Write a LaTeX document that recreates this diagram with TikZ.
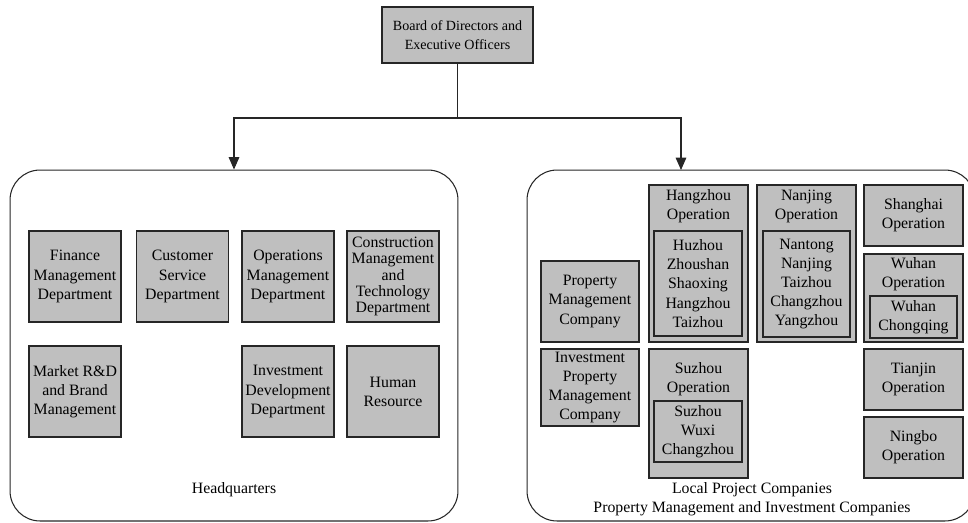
\documentclass[tikz,border=0pt]{standalone}
\usepackage{fontspec}
\setmainfont{Liberation Serif}
\usetikzlibrary{arrows.meta}

\tikzset{
  unit/.style={draw=black!85, fill=gray!50, line width=0.8pt, align=center, inner sep=0pt,
    font=\fontsize{9}{10.9}\selectfont},
  group/.style={draw=black!85, line width=0.6pt, rounded corners=0.6cm, inner sep=0pt},
}

\begin{document}
\begin{tikzpicture}[x=0.02cm, y=-0.02cm]
        \useasboundingbox (0,0) rectangle (968,522);
        \clip (0,0) rectangle (968,522);
        % the two groups
        \node[group, minimum width=8.96cm, minimum height=7.02cm] (HQ) at (234,345.5) {};
        \node[group, minimum width=8.96cm, minimum height=7.02cm] (LP) at (751,345.5) {};
        \node[font=\fontsize{9}{10.9}\selectfont] (HQlabel) at (234,490) {Headquarters};
        \node[font=\fontsize{9}{10.9}\selectfont, align=center] (LPlabel) at (752,499.5) {Local Project Companies\\Property Management and Investment Companies};
        % top
        \node[unit, minimum width=3.02cm, minimum height=1.12cm, font=\fontsize{8}{10.9}\selectfont] (Board) at (457.5,35) {Board of Directors and\\Executive Officers};
        \coordinate (split) at (457.5,118);
        \coordinate (LPin) at (681,170);
        \begin{scope}[every path/.style={draw=black!85, line width=0.6pt}, >={Triangle[width=6pt,length=7pt]}]
                \draw (Board) -- (split);
                \draw[->] (split) -| (HQ.north);
                \draw[->] (split) -| (LPin);
        \end{scope}
        % headquarters
        \begin{scope}[every node/.style={unit, minimum width=1.84cm, minimum height=1.82cm}]
                \node (Fin) at (75,276.5) {Finance\\Management\\Department};
                \node (Cust) at (182.5,276.5) {Customer\\Service\\Department};
                \node (Ops) at (288,276.5) {Operations\\Management\\Department};
                \node[font=\fontsize{9}{9.2}\selectfont] (Cons) at (393,276.5) {Construction\\Management\\and\\Technology\\Department};
                \node (Mkt) at (75,391.5) {Market R\&D\\and Brand\\Management};
                \node (Inv) at (288,391.5) {Investment\\Development\\Department};
                \node (HR) at (393,391.5) {Human\\Resource};
        \end{scope}
        % local companies
        \begin{scope}[every node/.style={unit, minimum width=1.98cm}]
                \node[minimum width=1.96cm, minimum height=1.62cm] (PMC) at (590,301.5) {Property\\Management\\Company};
                \node[minimum width=1.96cm, minimum height=1.54cm] (IPMC) at (590,387.5) {Investment\\Property\\Management\\Company};
                \node[minimum height=3.14cm] (Hz) at (698.5,263.5) {};
                \node[minimum height=2.58cm] (Sz) at (698.5,413.5) {};
                \node[minimum height=3.14cm] (Nj) at (806.5,263.5) {};
                \node[minimum height=1.22cm] (Sh) at (913.5,215.5) {Shanghai\\Operation};
                \node[minimum height=1.76cm] (Wh) at (913.5,298) {};
                \node[minimum height=1.22cm] (Tj) at (913.5,379.5) {Tianjin\\Operation};
                \node[minimum height=1.22cm] (Nb) at (913.5,447.5) {Ningbo\\Operation};
        \end{scope}
        \begin{scope}[every node/.style={align=center, inner sep=0pt, font=\fontsize{9}{10.9}\selectfont}]
                \node (HzTitle) at (698.5,206.5) {Hangzhou\\Operation};
                \node (SzTitle) at (698.5,379.5) {Suzhou\\Operation};
                \node (NjTitle) at (806.5,206.5) {Nanjing\\Operation};
                \node (WhTitle) at (913.5,274.5) {Wuhan\\Operation};
        \end{scope}
        \begin{scope}[every node/.style={unit, minimum width=1.76cm}]
                \node[minimum height=2.10cm] (HzCities) at (698,283.5) {Huzhou\\Zhoushan\\Shaoxing\\Hangzhou\\Taizhou};
                \node[minimum height=1.22cm] (SzCities) at (698,431.5) {Suzhou\\Wuxi\\Changzhou};
                \node[minimum width=1.74cm, minimum height=2.12cm] (NjCities) at (806.5,284) {Nantong\\Nanjing\\Taizhou\\Changzhou\\Yangzhou};
                \node[minimum width=1.74cm, minimum height=0.84cm] (WhCities) at (913.5,317) {Wuhan\\Chongqing};
        \end{scope}
\end{tikzpicture}
\end{document}
